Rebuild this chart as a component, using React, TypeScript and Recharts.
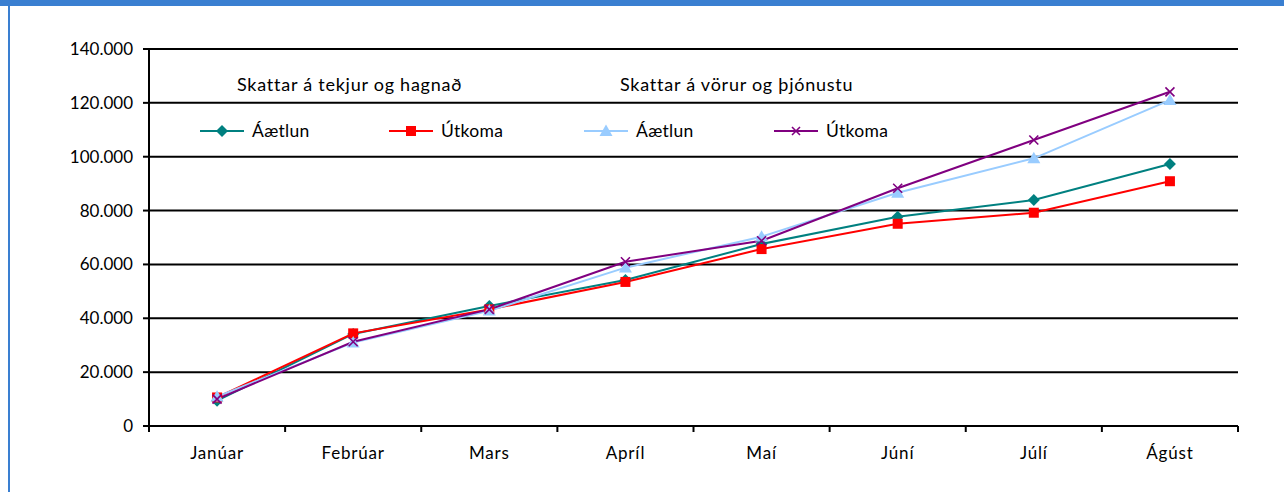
import React from 'react';
import { LineChart, Line, XAxis, YAxis, CartesianGrid } from 'recharts';

const months = ['Janúar', 'Febrúar', 'Mars', 'Apríl', 'Maí', 'Júní', 'Júlí', 'Ágúst'];
const tekjurAaetlun = [9400, 34200, 44600, 54200, 67600, 77700, 83900, 97300];
const tekjurUtkoma = [10600, 34400, 43300, 53500, 65700, 75100, 79200, 90900];
const vorurAaetlun = [10900, 31000, 42800, 58800, 70300, 86600, 99400, 121000];
const vorurUtkoma = [10000, 31300, 43300, 61000, 68800, 88300, 106200, 124100];
const yTicks = [0, 20000, 40000, 60000, 80000, 100000, 120000, 140000];
const groupTitles = ['Skattar á tekjur og hagnað', 'Skattar á vörur og þjónustu'];
const seriesNames = ['Áætlun', 'Útkoma', 'Áætlun', 'Útkoma'];

const TEAL = '#008080';
const RED = '#FF0000';
const LIGHT = '#99CCFF';
const PURPLE = '#800080';
const FONT = 'Lato, "Open Sans", sans-serif';
const TICK_MARGIN = 21;

const data = months.map((m, i) => ({
  month: m,
  ta: tekjurAaetlun[i],
  tu: tekjurUtkoma[i],
  va: vorurAaetlun[i],
  vu: vorurUtkoma[i],
}));

const fmt = (v: number) => (v === 0 ? '0' : v.toLocaleString('de-DE'));

const diamondPath = (cx: number, cy: number, r: number) =>
  `M${cx},${cy - r}L${cx + r},${cy}L${cx},${cy + r}L${cx - r},${cy}Z`;
const trianglePath = (cx: number, cy: number, r: number) =>
  `M${cx},${cy - r}L${cx + r},${cy + r * 0.75}L${cx - r},${cy + r * 0.75}Z`;

const DiamondDot = (p: any) => {
  if (p.cx == null || p.cy == null) return <g key={`d${p.index}`} />;
  return <path key={`d${p.index}`} d={diamondPath(p.cx, p.cy, 6)} fill={TEAL} />;
};
const SquareDot = (p: any) => {
  if (p.cx == null || p.cy == null) return <g key={`s${p.index}`} />;
  return <rect key={`s${p.index}`} x={p.cx - 5} y={p.cy - 5} width={10} height={10} fill={RED} />;
};
const TriangleDot = (p: any) => {
  if (p.cx == null || p.cy == null) return <g key={`t${p.index}`} />;
  return <path key={`t${p.index}`} d={trianglePath(p.cx, p.cy, 6.5)} fill={LIGHT} />;
};
const CrossDot = (p: any) => {
  if (p.cx == null || p.cy == null) return <g key={`x${p.index}`} />;
  const r = 4.5;
  return (
    <path
      key={`x${p.index}`}
      d={`M${p.cx - r},${p.cy - r}L${p.cx + r},${p.cy + r}M${p.cx - r},${p.cy + r}L${p.cx + r},${p.cy - r}`}
      stroke={PURPLE}
      strokeWidth={1.6}
      fill="none"
    />
  );
};

const MonthTick = (props: any) => {
  const { x, y, payload } = props;
  const off = payload && typeof payload.offset === 'number' ? payload.offset : 0;
  const axisY = y - TICK_MARGIN;
  const last = payload && payload.index === months.length - 1;
  return (
    <g>
      <line x1={x - off} y1={axisY} x2={x - off} y2={axisY + 6} stroke="#000" strokeWidth={2} />
      {last && <line x1={x + off} y1={axisY} x2={x + off} y2={axisY + 6} stroke="#000" strokeWidth={2} />}
      <text x={x} y={y} dy="0.71em" textAnchor="middle" fill="#000" fontSize={17} fontFamily={FONT} letterSpacing={0.8}>
        {payload.value}
      </text>
    </g>
  );
};

const LegendMarker = ({ kind }: { kind: number }) => {
  const colors = [TEAL, RED, LIGHT, PURPLE];
  const c = colors[kind];
  const cx = 22;
  const cy = 7;
  let marker: React.ReactNode = null;
  if (kind === 0) marker = <path d={diamondPath(cx, cy, 6)} fill={c} />;
  if (kind === 1) marker = <rect x={cx - 5} y={cy - 5} width={10} height={10} fill={c} />;
  if (kind === 2) marker = <path d={trianglePath(cx, cy, 6.5)} fill={c} />;
  if (kind === 3)
    marker = (
      <path d={`M${cx - 4},${cy - 4}L${cx + 4},${cy + 4}M${cx - 4},${cy + 4}L${cx + 4},${cy - 4}`} stroke={c} strokeWidth={1.6} />
    );
  return (
    <svg width={44} height={14} style={{ display: 'block' }}>
      <line x1={0} y1={cy} x2={44} y2={cy} stroke={c} strokeWidth={2} />
      {marker}
    </svg>
  );
};

const legendItemLeft = [200, 389, 584, 774];
const titleLeft = [237, 620];

export default function App() {
  return (
    <div style={{ position: 'absolute', left: 0, top: 0, width: 1284, height: 492, background: '#fff', overflow: 'hidden', fontFamily: FONT }}>
      <div style={{ position: 'absolute', left: 0, top: 0, width: 1284, height: 6, background: '#3A7FD1' }} />
      <div style={{ position: 'absolute', left: 8, top: 0, width: 2, height: 492, background: '#3A7FD1' }} />
      <div style={{ position: 'absolute', left: 0, top: 0 }}>
        <LineChart width={1284} height={492} data={data} margin={{ top: 49, right: 46, left: 69, bottom: 26 }}>
          <CartesianGrid horizontal vertical={false} stroke="#000" strokeWidth={2} />
          <XAxis
            dataKey="month"
            scale="band"
            height={40}
            axisLine={{ stroke: '#000', strokeWidth: 2 }}
            tickLine={false}
            tickSize={0}
            tickMargin={TICK_MARGIN}
            interval={0}
            tick={MonthTick}
          />
          <YAxis
            width={80}
            domain={[0, 140000]}
            ticks={yTicks}
            tickFormatter={fmt}
            tickSize={6}
            tickMargin={10}
            axisLine={{ stroke: '#000', strokeWidth: 2 }}
            tickLine={{ stroke: '#000', strokeWidth: 2 }}
            tick={{ fill: '#000', fontSize: 17, fontFamily: FONT }}
          />
          <Line dataKey="ta" stroke={TEAL} strokeWidth={2} dot={DiamondDot} activeDot={false} isAnimationActive={false} />
          <Line dataKey="tu" stroke={RED} strokeWidth={2} dot={SquareDot} activeDot={false} isAnimationActive={false} />
          <Line dataKey="va" stroke={LIGHT} strokeWidth={2} dot={TriangleDot} activeDot={false} isAnimationActive={false} />
          <Line dataKey="vu" stroke={PURPLE} strokeWidth={2} dot={CrossDot} activeDot={false} isAnimationActive={false} />
        </LineChart>
      </div>
      {groupTitles.map((t, i) => (
        <div key={t} style={{ position: 'absolute', left: titleLeft[i], top: 73, fontSize: 18, lineHeight: '22px', letterSpacing: 0.75, color: '#000', whiteSpace: 'nowrap' }}>
          {t}
        </div>
      ))}
      {seriesNames.map((n, i) => (
        <div key={i} style={{ position: 'absolute', left: legendItemLeft[i], top: 120, height: 22, display: 'flex', alignItems: 'center', whiteSpace: 'nowrap' }}>
          <LegendMarker kind={i} />
          <span style={{ marginLeft: 8, fontSize: 17.5, lineHeight: '22px', letterSpacing: 0.3, color: '#000' }}>{n}</span>
        </div>
      ))}
    </div>
  );
}
